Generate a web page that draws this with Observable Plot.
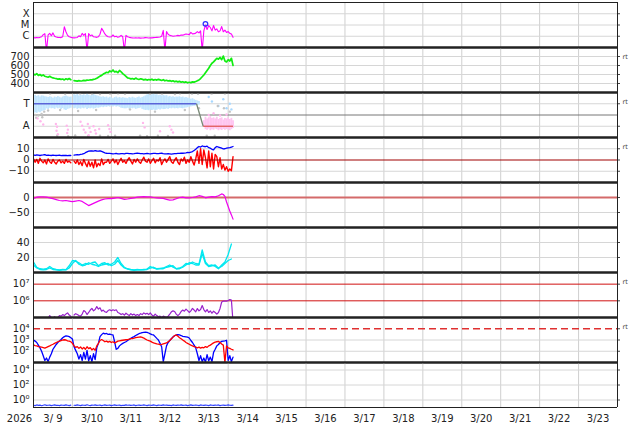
<!DOCTYPE html>
<html><head><meta charset="utf-8">
<script src="https://cdn.jsdelivr.net/npm/d3@7"></script>
<script src="https://cdn.jsdelivr.net/npm/@observablehq/plot@0.6"></script>
<style>
body{margin:0;background:#fff;}
#chart{position:relative;width:634px;height:424px;font-family:"DejaVu Sans",sans-serif;}
</style></head><body><div id="chart"></div>
<script>
const START = Date.UTC(2026,2,9), END = Date.UTC(2026,2,24);
const HOUR = 36e5, DAY = 864e5;
const dayLabels = ["3/ 9","3/10","3/11","3/12","3/13","3/14","3/15","3/16","3/17","3/18","3/19","3/20","3/21","3/22","3/23"];
const yearLabel = "2026";

// X-ray flux, µW/m² (hourly from 3/9 00UT)
const xray = [0.75,0.72,0.78,0.74,0.8,0.9,1.4,1.7,0.05,1.3,
1.8,1.1,2.0,1.0,0.85,0.8,0.78,0.76,0.9,7.0,
2.5,1.2,0.9,0.8,0.75,0.72,0.74,0.78,1.1,0.9,
1.8,1.2,1.7,0.05,1.7,1.1,1.3,0.9,0.85,0.8,
0.9,1.5,5.0,3.0,1.6,1.1,0.9,0.85,0.9,1.3,
0.9,1.0,0.8,0.9,1.2,0.9,0.05,1.2,0.9,0.8,
0.75,0.72,0.7,0.73,0.7,0.72,0.68,0.7,0.72,0.75,
0.73,0.7,0.74,0.72,0.75,0.78,0.8,0.82,0.85,1.0,
3.3,0.05,2.6,1.5,1.2,1.1,1.0,1.05,1.1,1.2,
1.1,1.3,1.25,1.4,1.6,1.5,1.4,2.2,1.6,1.7,
1.9,2.6,2.0,3.0,0.05,3.0,10,4,9,6,
3,9,3.5,4.5,2.5,3,7.3,2.5,3.5,2.2,
2.6,1.8,1.6,0.8];
const flareHour = 106, flareFlux = 12.7;
const xrayTicks = [1,10,100], xrayLabels = ["C","M","X"];

// Solar wind speed km/s (hourly)
const speed = [505,495,510,490,500,485,495,480,475,470,
480,470,462,458,455,448,452,446,450,440,
452,444,455,442,null,432,430,426,432,428,
430,435,432,438,436,442,440,446,450,458,
470,482,490,505,515,525,520,540,530,550,
528,535,520,545,530,510,495,480,462,458,
452,455,448,460,450,445,452,448,440,446,
438,444,440,448,436,444,438,446,440,434,
442,430,436,428,432,424,430,420,426,418,
424,415,420,412,418,408,414,410,418,415,
422,430,440,455,475,495,520,545,570,600,
625,640,660,680,670,690,665,705,650,640,
665,650,680,600];

// IMF sector (T = 3, A = 1)
const blueHi = [3.7,3.75,3.65,3.72,3.6,3.7,3.68,3.62,3.6,3.55,
3.62,3.58,3.5,3.6,3.55,3.64,3.58,3.52,3.6,3.66,
3.7,3.62,3.58,3.6,null,3.8,3.75,3.82,3.7,3.78,
3.74,3.8,3.72,3.85,3.76,3.7,3.78,3.82,3.74,3.7,
3.66,3.6,3.58,3.62,3.55,3.6,3.5,3.58,3.52,3.45,
3.55,3.6,3.5,3.56,3.48,3.54,3.5,3.5,3.45,3.55,
3.5,3.58,3.52,3.48,3.55,3.6,3.5,3.56,3.62,3.7,
3.78,3.82,3.75,3.8,3.85,3.78,3.8,3.72,3.76,3.7,
3.75,3.68,3.72,3.6,3.65,3.58,3.62,3.55,3.6,3.58,
3.62,3.55,3.6,3.52,3.56,3.5,3.48,3.4,3.45,3.35,
3.3,3.25,3.2];
const blueLo = [2.1,2.2,2.15,2.25,2.2,2.3,2.35,2.4,2.55,2.5,
2.6,2.55,2.58,2.5,2.62,2.55,2.6,2.5,2.58,2.45,
2.4,2.5,2.55,2.6,null,2.55,2.6,2.5,2.58,2.52,
2.6,2.55,2.62,2.5,2.58,2.55,2.6,2.52,2.58,2.62,
2.6,2.65,2.7,2.65,2.72,2.68,2.75,2.7,2.8,2.72,
2.78,2.7,2.75,2.68,2.6,2.58,2.55,2.55,2.6,2.52,
2.58,2.55,2.6,2.5,2.55,2.58,2.62,2.5,2.45,2.4,
2.42,2.38,2.45,2.4,2.45,2.38,2.42,2.5,2.45,2.52,
2.48,2.5,2.55,2.5,2.58,2.55,2.6,2.55,2.58,2.55,
2.6,2.58,2.55,2.6,2.62,2.65,2.7,2.72,2.75,2.78,
2.8,2.85,2.9];
const pinkStart = 105;
const pinkHi = [1.5,1.8,1.65,1.75,1.85,1.7,1.75,1.65,1.8,1.6,1.7,1.75,1.55,1.7,1.65,1.75,1.6,1.7,1.5];
const pinkLo = [0.9,0.7,0.65,0.75,0.6,0.7,0.65,0.75,0.7,0.6,0.7,0.62,0.72,0.65,0.7,0.68,0.6,0.7,0.8];
const grayDotHours = [10.3,19.5,28.7,36.1,41,47.2,52.1,56.4,71.8,79.2,87.2,90.3,97.7,101.4,109.8,118,
14.6,21.4,25.7,33.7,41,46,50.3,65.7,70,76.7,82.9,106.8,111.7,
1,3,5,6.6,9,16.4,27.5,38.6,59.5,74.9,93.3,102,113.6,117.4,121,1.7,5.4];
const grayDotValues = [3.9,3.88,3.92,3.9,3.86,3.9,3.92,3.88,3.9,3.9,3.87,3.92,3.9,3.88,3.9,3.91,
0.15,0.12,0.18,0.14,0.16,0.13,0.15,0.17,0.12,0.15,0.14,0.16,0.15,
2.0,1.95,2.1,2.3,2.4,2.45,2.35,2.45,2.5,2.3,2.45,2.6,2.8,2.6,2.3,1.75,1.8];
const pinkDotHours = [2.5,4.3,6,13.8,14.5,14.2,15,20.5,21.2,20.8,29,30,31,32,33.5,34.5,35.2,34,37,38,38.5,40.5,46,46.8,47.5,67.5,68.5,78,84,85,86,108,111,115,119];
const pinkDotValues = [1.7,1.45,1.15,1.2,0.95,0.6,0.3,1.05,0.7,0.4,1.4,1.05,0.7,0.45,1.2,0.85,0.5,0.2,1.0,0.65,0.35,0.75,1.1,0.75,0.5,1.3,0.9,0.55,1.0,0.7,0.45,2.0,2.15,1.95,2.05];
const blueDotHours = [108,110,114,117,119,121,122];
const blueDotValues = [3.6,3.2,2.8,3.4,2.6,3.0,2.5];
const sectorHours = [0,100.5,104.6,123];
const sectorValues = [3,3,1,1];
const sectorColors = ["#5a64d8","#7a8a78","#e05a5a"];

// IMF Bt and Bz, nT (hourly)
const bt = [4.5,4.2,4.6,4.4,4.0,4.3,4.5,4.8,4.2,4.4,
4.1,4.0,4.3,4.2,4.0,4.1,4.3,3.9,4.1,4.0,
4.2,3.8,4.0,4.0,null,4.4,4.6,4.8,4.5,4.9,
5.2,5.6,6.5,7.2,7.8,8.0,8.2,7.9,8.3,8.0,
7.8,8.2,7.6,7.0,6.4,6.0,5.9,5.8,5.7,5.5,
5.6,5.8,5.5,5.4,5.6,5.7,5.5,5.9,5.8,5.6,
5.7,5.5,5.6,5.8,6.0,5.9,5.7,5.6,5.5,5.7,
5.8,5.6,5.5,5.7,5.9,5.8,5.7,5.6,5.8,6.0,
5.7,5.5,5.4,5.6,5.5,5.3,5.5,5.7,5.6,5.8,
5.9,6.1,6.0,6.2,6.4,6.7,6.5,6.9,7.5,8.5,
9.5,11,12,11.5,12.5,12,11.8,12.3,11,10.5,
9.5,9,11,12,11.5,11,10.5,9.8,10,10.5,
10.8,11,11.5,12];
const bz = [1,-2,0.5,-3,1.5,-1,-2.5,0,-3.5,1,
-1.5,-3,0.5,-2,-3.5,-1,0,-2.5,-1,-3,
0.5,-2,-1,-2.5,null,-1,-3,0,-4,-1.5,
-5,0.5,-3,-6,-1,-5.5,-2,-7,0,-6,
-3,-5,1,-4,-2,-2,0.5,-3,-1,1,
-2.5,0,-4,-1,1.5,-2,-0.5,-3,0,2,
-1,-3.5,0.5,-2,1,-1.5,-3,0,2.5,-1,
-2,1,-3,-0.5,1.5,-2.5,0,-1,2,-4,
-1,1,-2,0.5,3,-1.5,-3,0,2,-2,
-4,1,-1,2.5,-3,0,-2,3,-1,-4.5,
1,8,-3,10,-4,9,2,-7,8,-6,
6,-8,5,3,-6,2,-8,-4,-9,-6,
-10,-8,-9.5,3];

// Dst, nT
const dstHours = [0,2,4,6,8,10,12,14,16,18,20,22,24,26,28,30,32,34,36,38,40,42,44,46,48,50,52,54,56,58,60,62,64,66,68,70,72,74,76,78,80,82,84,86,88,90,92,94,96,98,100,102,104,106,108,110,112,114,116,117,118,119,120,121,122,123];
const dstValues = [-3,1,2,2,1,-1,-4,-7,-10,-11,-10,-12,-14,-12,-10,-13,-20,-27,-22,-17,-12,-8,-5,-4,-4,-2,0,-3,-6,-5,-3,-1,1,2,3,2,2,0,-1,-2,-3,-6,-9,-8,-4,0,1,-1,-1,0,2,6,4,-1,1,3,2,6,12,10,4,-15,-30,-45,-58,-72];

// Two cyan series (2-hourly)
const cyanA = [14,7,5,4.5,5,8,5,4,3.5,4,
3.8,9,16,15,13,10,12,11,13,14,
9,12,13,10,11,14,20,12,7,5,
4,3.5,4,3.5,4,4.5,8,6,5,5.5,
6,8,10,7,5,6,8,12,11,14,
12,11,30,14,9,10,8,5,10,14,
24,38];
const cyanB = [10,6,4,3.5,4,6,4,3.5,3,3.5,
3.5,6,12,16,11,9,10,13,11,10,
8,10,11,12,9,11,16,10,6,4.5,
3.5,3,3.5,3.5,3.5,4,6,7,4.5,5,
5,7,8,9,5,5,7,10,13,12,
10,10,25,12,8,9,10,6,8,12,
16,18];

// Purple flux (hourly)
const purple = [7e4,8e4,7e4,7.5e4,8e4,8.5e4,8e4,9e4,8.5e4,9e4,
1.3e5,1.0e5,9e4,1.1e5,9e4,1.0e5,1.3e5,1.2e5,1.5e5,1.3e5,
1.6e5,1.9e5,1.4e5,1.2e5,null,1.4e5,1.7e5,1.5e5,1.3e5,1.2e5,
1.6e5,2.6e5,2.2e5,1.5e5,2.0e5,2.8e5,3.5e5,2.5e5,3.0e5,4.5e5,
3.2e5,3.8e5,2.4e5,2.8e5,2.2e5,2.0e5,2.6e5,2.9e5,2.5e5,2.9e5,
2.6e5,2.9e5,2.0e5,1.8e5,1.5e5,1.7e5,1.4e5,1.8e5,1.5e5,1.3e5,
1.7e5,1.4e5,1.6e5,1.3e5,1.5e5,1.3e5,1.7e5,1.5e5,1.9e5,1.6e5,
1.8e5,1.5e5,1.9e5,1.4e5,1.2e5,1.6e5,1.3e5,1.1e5,1.2e5,1.0e5,
1.2e5,1.1e5,1.0e5,1.2e5,1.6e5,2.2e5,2.5e5,2.3e5,1.6e5,1.3e5,
1.6e5,2.3e5,2.8e5,2.4e5,3.2e5,2.6e5,2.0e5,2.5e5,3.5e5,2.8e5,
2.2e5,3.4e5,2.5e5,3.0e5,5.2e5,3.0e5,2.2e5,3.0e5,2.0e5,2.5e5,
1.8e5,2.4e5,2.0e5,1.6e5,2.0e5,3.5e5,8.5e5,9.5e5,9.8e5,9.6e5,
1.05e6,1.2e6,1.1e6,5e4];

// Electron fluxes (hourly)
const elecBlue = [1000,800,600,350,200,100,40,15,25,12,
30,60,150,250,400,600,800,1100,1600,2000,
2300,2200,2000,1600,1200,250,120,60,20,50,
15,80,20,120,14,40,12,60,18,200,
500,2000,3000,4000,3500,3800,3200,3400,3000,2800,
700,150,180,300,400,500,600,700,900,1100,
1400,1700,2000,2500,3000,3600,4000,4500,4800,5000,
4800,4200,3500,3000,2800,2000,1400,1000,500,250,
12,60,300,600,900,1300,1900,2400,2800,3000,
2800,2500,2100,2000,1900,1800,1500,900,600,350,
200,60,15,40,12,25,11,50,14,30,
12,80,150,300,400,600,750,800,850,950,
15,40,12,30];
const elecRed = [370,320,300,260,250,230,210,190,220,260,
300,360,420,500,600,700,800,900,1000,1050,
1000,850,800,700,500,300,220,260,180,240,
160,220,150,250,170,210,130,180,120,300,
500,900,1100,900,700,800,650,750,600,700,
550,650,800,850,900,950,1000,1050,1100,1200,
1300,1350,1450,1600,1700,1800,1900,1700,1500,1200,
1000,900,800,650,550,500,450,420,380,400,
450,500,550,700,900,1300,1800,2500,2800,2200,
1600,1300,1000,800,600,500,420,350,300,260,
240,200,230,190,220,200,260,220,300,350,
450,550,650,700,750,600,450,350,10,300,
200,180,150,130];

// Bottom panel (hourly)
const lowBlue = [0.2,0.18,0.22,0.19,0.21,0.17,0.2,0.23,0.19,0.2,
0.21,0.18,0.2,0.22,0.19,0.2,0.18,0.21,0.2,0.19,
0.22,0.2,0.18,0.21,null,0.2,0.19,0.22,0.2,0.18,
0.21,0.2,0.19,0.23,0.2,0.18,0.21,0.2,0.22,0.19,
0.2,0.21,0.18,0.2,0.22,0.19,0.2,0.21,0.18,0.2,
0.22,0.19,0.2,0.21,0.18,0.2,0.19,0.22,0.2,0.21,
0.19,0.2,0.22,0.18,0.2,0.21,0.19,0.2,0.22,0.2,
0.18,0.21,0.2,0.19,0.22,0.2,0.18,0.21,0.2,0.19,
0.22,0.2,0.21,0.19,0.2,0.18,0.22,0.2,0.19,0.21,
0.2,0.22,0.19,0.2,0.21,0.18,0.2,0.22,0.19,0.2,
0.21,0.2,0.18,0.22,0.2,0.19,0.21,0.2,0.18,0.22,
0.2,0.19,0.21,0.2,0.22,0.18,0.2,0.21,0.19,0.2,
0.22,0.2,0.19,0.21];

// ---------- helpers ----------
const T = h => new Date(START + h*HOUR);
const ser = (arr, step=1, start=0) => arr.map((v,i)=>({t:T(start+i*step), v}));
const pairs = (hours, vals) => hours.map((h,i)=>({t:T(h), v:vals[i]}));
const band = (hi, lo, start) => hi.map((h,i)=>({t:T(start+i), hi:h, lo:lo[i]})).filter(d=>d.hi!=null);
const midnights = d3.range(1,15).map(d=>new Date(START + d*DAY));
const noonTicks = dayLabels.map((_,i)=>new Date(START + (i+0.5)*DAY));
const chart = document.getElementById("chart");
const sup = {"-1":"⁻¹","0":"⁰","1":"¹","2":"²","3":"³","4":"⁴","5":"⁵","6":"⁶","7":"⁷"};
const pow10 = d => "10" + sup[String(Math.round(Math.log10(d)))];

function panel(k, y, dataMarks, o) {
  const mt = 6, mb = k === 8 ? 22 : 6;
  const top = 2 + 45*k;
  const [y0, y1] = y.domain;
  const marks = [
    Plot.gridX({ticks: midnights, stroke:"#cfcfcf", strokeOpacity:1}),
  ];
  if (o.grid && o.grid.length) marks.push(Plot.gridY({ticks:o.grid, stroke:"#d6d6d6", strokeOpacity:1}));
  marks.push(...dataMarks);
  marks.push(
    Plot.ruleX([new Date(START), new Date(END)], {stroke:"#222"}),
    Plot.ruleY([y1], {stroke:"#222", strokeWidth: k===0 ? 1 : 2}),
    Plot.ruleY([y0], {stroke:"#222", strokeWidth: k===8 ? 1 : 2}),
    Plot.axisY({ticks:o.ticks, tickFormat:o.fmt, tickSize:0, tickPadding:4, fontSize:10, fill:"#222", label:null}),
    Plot.axisY({anchor:"right", ticks:o.ticks, tickSize:2, tickFormat:()=>"", stroke:"#444", label:null})
  );
  if (o.rt != null) marks.push(Plot.text([{t:new Date(END), v:o.rt}], {x:"t", y:"v", text:()=>"rt", dx:5, dy:o.rtDy ?? -2, textAnchor:"start", fontSize:6.5, fill:"#444"}));
  if (k === 8) {
    marks.push(
      Plot.axisX({ticks: noonTicks, tickFormat: d => dayLabels[Math.floor((d - START)/DAY)], tickSize:0, tickPadding:7, fontSize:10, fill:"#222", label:null}),
      Plot.text([yearLabel], {frameAnchor:"bottom-left", dx:-14, dy:11, textAnchor:"middle", lineAnchor:"middle", fontSize:10, fill:"#222"})
    );
  }
  const svg = Plot.plot({
    width:634, height:45+mt+mb, marginTop:mt, marginBottom:mb, marginLeft:33, marginRight:17,
    x:{type:"utc", domain:[new Date(START), new Date(END)], axis:null, label:null},
    y:{...y, axis:null, label:null},
    color:{type:"identity"},
    style:{background:"transparent", overflow:"visible", fontFamily:"DejaVu Sans, sans-serif", fontSize:"10px", color:"#222"},
    marks
  });
  svg.style.position = "absolute";
  svg.style.left = "0px";
  svg.style.top = (top - mt) + "px";
  chart.appendChild(svg);
}

// 1 X-ray
panel(0, {type:"log", domain:[0.1,1000]}, [
  Plot.line(ser(xray), {x:"t", y:"v", stroke:"#ff00ff", strokeWidth:1.1, clip:true}),
  Plot.dot([{t:T(flareHour), v:flareFlux}], {x:"t", y:"v", r:2.3, stroke:"#3030ff", strokeWidth:1.3, fill:"none"})
], {grid:xrayTicks, ticks:xrayTicks, fmt:d=>xrayLabels[xrayTicks.indexOf(d)]});

// 2 speed
panel(1, {type:"linear", domain:[300,800]}, [
  Plot.line(ser(speed), {x:"t", y:"v", stroke:"#11ee11", strokeWidth:1.7, clip:true})
], {grid:[400,500,600,700], ticks:[400,500,600,700], fmt:d=>String(d), rt:700, rtDy:0});

// 3 sector
const sectorSegs = sectorColors.map((c,i)=>({t1:T(sectorHours[i]), v1:sectorValues[i], t2:T(sectorHours[i+1]), v2:sectorValues[i+1], c}));
panel(2, {type:"linear", domain:[0,4]}, [
  Plot.ruleY([2], {stroke:"#777"}),
  Plot.ruleX(band(blueHi, blueLo, 0), {x:"t", y1:"lo", y2:"hi", stroke:"#c2e6ff", strokeWidth:1.8, clip:true}),
  Plot.ruleX(band(pinkHi, pinkLo, pinkStart), {x:"t", y1:"lo", y2:"hi", stroke:"#ffc4f0", strokeWidth:1.8, clip:true}),
  Plot.dot(pairs(blueDotHours, blueDotValues), {x:"t", y:"v", r:1.2, fill:"#a8d8ff", clip:true}),
  Plot.dot(pairs(grayDotHours, grayDotValues), {x:"t", y:"v", r:1.2, fill:"#c4c4c4", clip:true}),
  Plot.dot(pairs(pinkDotHours, pinkDotValues), {x:"t", y:"v", r:1.2, fill:"#ffb8ec", clip:true}),
  Plot.link(sectorSegs, {x1:"t1", y1:"v1", x2:"t2", y2:"v2", stroke:"c", strokeWidth:1.3})
], {grid:[1,3], ticks:[1,3], fmt:d=>d===3?"T":"A", rt:3});

// 4 Bt / Bz
panel(3, {type:"linear", domain:[-20,20]}, [
  Plot.line(ser(bz), {x:"t", y:"v", stroke:"#ff0000", strokeWidth:1.4, clip:true}),
  Plot.line(ser(bt), {x:"t", y:"v", stroke:"#0000ff", strokeWidth:1.3, clip:true}),
  Plot.ruleY([0], {stroke:"#a00000"})
], {grid:[-10,10], ticks:[-10,0,10], fmt:d=>d<0?"−"+Math.abs(d):String(d), rt:10});

// 5 Dst
panel(4, {type:"linear", domain:[-100,50]}, [
  Plot.ruleY([0], {stroke:"#d46a6a", strokeWidth:2.2}),
  Plot.line(pairs(dstHours, dstValues), {x:"t", y:"v", stroke:"#ee00ee", strokeWidth:1.2, clip:true})
], {grid:[-50], ticks:[-50,0], fmt:d=>d<0?"−"+Math.abs(d):String(d)});

// 6 cyan
panel(5, {type:"linear", domain:[0,60]}, [
  Plot.line(ser(cyanB, 2), {x:"t", y:"v", stroke:"#00e8f0", strokeWidth:1.3, clip:true}),
  Plot.line(ser(cyanA, 2), {x:"t", y:"v", stroke:"#00e8f0", strokeWidth:1.3, clip:true})
], {grid:[20,40], ticks:[20,40], fmt:d=>String(d)});

// 7 purple
panel(6, {type:"log", domain:[1e5,5e7]}, [
  Plot.ruleY([1e6,1e7], {stroke:"#d01010"}),
  Plot.line(ser(purple), {x:"t", y:"v", stroke:"#9922cc", strokeWidth:1.2, clip:true})
], {grid:[], ticks:[1e6,1e7], fmt:pow10, rt:1e7});

// 8 electrons
panel(7, {type:"log", domain:[10,1e5]}, [
  Plot.ruleY([1e4], {stroke:"#e03030", strokeWidth:1.5, strokeDasharray:"7,4"}),
  Plot.line(ser(elecBlue), {x:"t", y:"v", stroke:"#0000ff", strokeWidth:1.3, clip:true}),
  Plot.line(ser(elecRed), {x:"t", y:"v", stroke:"#ff0000", strokeWidth:1.3, clip:true})
], {grid:[1e2,1e3], ticks:[1e2,1e3,1e4], fmt:pow10, rt:1e4});

// 9 bottom
panel(8, {type:"log", domain:[0.1,1e5]}, [
  Plot.line(ser(lowBlue), {x:"t", y:"v", stroke:"#3344ff", strokeWidth:1.2, clip:true})
], {grid:[1,1e2,1e4], ticks:[1,1e2,1e4], fmt:pow10});
</script></body></html>
